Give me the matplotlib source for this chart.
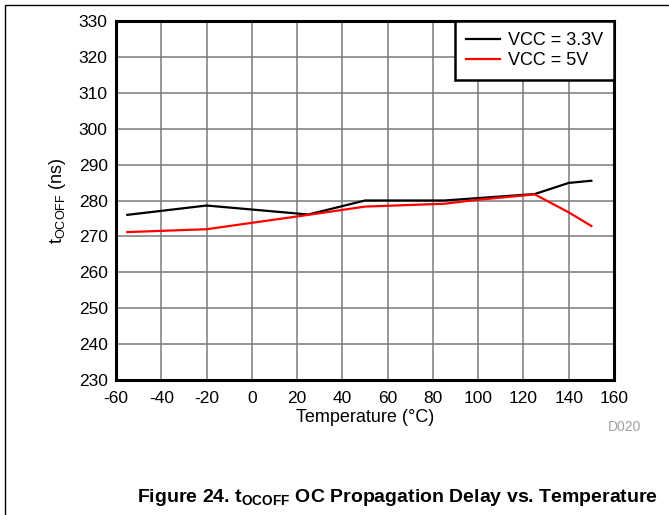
import matplotlib
matplotlib.use("Agg")
import matplotlib.pyplot as plt
from matplotlib.patches import Rectangle

plt.rcParams['font.family'] = ['Liberation Sans', 'DejaVu Sans']
plt.rcParams['mathtext.fontset'] = 'custom'
plt.rcParams['mathtext.rm'] = 'Liberation Sans'
plt.rcParams['mathtext.it'] = 'Liberation Sans'
plt.rcParams['mathtext.bf'] = 'Liberation Sans:bold'
plt.rcParams['axes.unicode_minus'] = False

# data
temp_33 = [-55, -20, 25, 50, 85, 125, 140, 150]
delay_33 = [276.0, 278.6, 276.1, 280.0, 280.0, 281.8, 284.9, 285.5]
temp_5 = [-55, -20, 25, 50, 85, 100, 125, 140, 150]
delay_5 = [271.2, 272.0, 276.0, 278.3, 279.1, 280.2, 281.7, 276.7, 272.9]

x_ticks = list(range(-60, 161, 20))
y_ticks = list(range(230, 331, 10))

W, H = 669, 515
fig = plt.figure(figsize=(W / 100, H / 100), dpi=100)

# outer frame of the datasheet figure
fig.patches.append(Rectangle((5 / W, -0.1), 1.2, 1 - 5 / H + 0.1,
                             transform=fig.transFigure, fill=False,
                             edgecolor='black', linewidth=1.0))

ax = fig.add_axes([116 / W, 1 - 380 / H, (614 - 116) / W, (380 - 21) / H])
ax.set_xlim(-60, 160)
ax.set_ylim(230, 330)
ax.set_xticks(x_ticks)
ax.set_yticks(y_ticks)
ax.grid(True, color='#7a7a7a', linewidth=1.1)
ax.set_axisbelow(True)
ax.tick_params(length=0, labelsize=12.5)
ax.tick_params(axis='x', pad=8)
ax.tick_params(axis='y', pad=6)
for s in ax.spines.values():
    s.set_linewidth(2.2)

ax.plot(temp_33, delay_33, color='black', linewidth=1.6, label='VCC = 3.3V')
ax.plot(temp_5, delay_5, color='#ff0000', linewidth=1.6, label='VCC = 5V')

leg = ax.legend(loc='upper right', fontsize=13, fancybox=False,
                framealpha=1, edgecolor='black', borderaxespad=0,
                handlelength=1.9, handletextpad=0.45, borderpad=0.6,
                labelspacing=0.2)
leg.get_frame().set_linewidth(1.8)

ax.set_xlabel('Temperature (°C)', fontsize=13, labelpad=2)
ax.set_ylabel(r'$\mathregular{t_{OCOFF}}$ (ns)', fontsize=13, labelpad=8)

fig.text(625 / W, 1 - 427 / H, 'D020', fontsize=10, color='#a0a0a0',
         ha='center', va='center')
fig.text(398 / W, 1 - 497 / H,
         r'Figure 24. $\mathbf{t_{OCOFF}}$ OC Propagation Delay vs. Temperature',
         fontsize=14, fontweight='bold', ha='center', va='center')

fig.savefig('out.png', dpi=100)
